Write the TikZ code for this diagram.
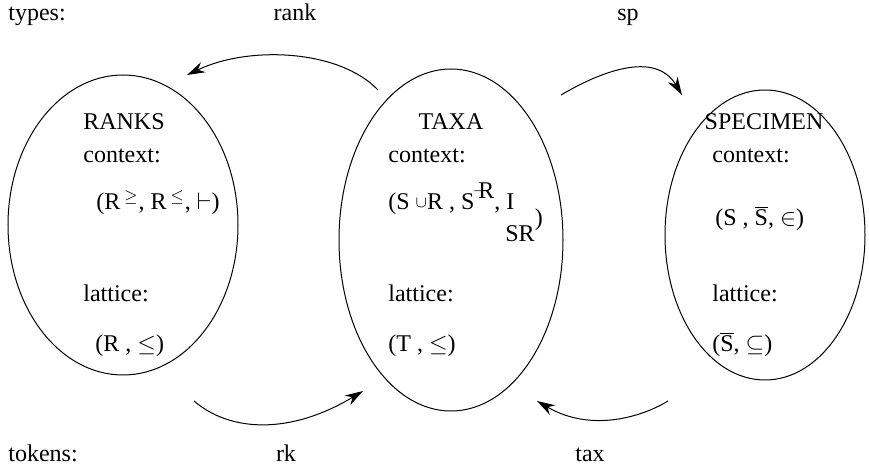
\documentclass[tikz,border=0pt]{standalone}
\usepackage{fontspec}
\setmainfont{Liberation Serif}
\usetikzlibrary{arrows.meta,shapes.geometric}
\begin{document}
\begin{tikzpicture}[x=0.5pt,y=-0.5pt,
  every node/.style={font=\fontsize{12}{14}\selectfont, inner sep=0pt},
  setbox/.style={draw, ellipse, line width=0.5pt, inner sep=0pt},
  conn/.style={line width=0.5pt, -{Stealth[length=9pt,width=5.5pt]}},
  lbl/.style={anchor=base west},
  ttl/.style={anchor=base}]
\useasboundingbox (0,0) rectangle (869,470);
% ellipses
\node[setbox, minimum width=115pt, minimum height=150pt] (ranks) at (123,225) {};
\node[setbox, minimum width=112pt, minimum height=171pt] (taxa) at (451,240) {};
\node[setbox, minimum width=100pt, minimum height=145pt] (spec) at (765,235) {};
% top/bottom labels
\node[lbl] (types) at (8,21) {types:};
\node[ttl] (rank) at (295,21) {rank};
\node[ttl] (sp) at (628,21) {sp};
\node[lbl] (tokens) at (8,462) {tokens:};
\node[ttl] (rk) at (286,462) {rk};
\node[ttl] (tax) at (590,462) {tax};
% RANKS
\node[ttl] (rT) at (124,130) {RANKS};
\node[lbl] (rC) at (83,163) {context:};
\node[lbl] (rF) at (96,210) {(R\,$^{\geq}$, R\,$^{\leq}$, $\vdash$)};
\node[lbl] (rL) at (83,302) {lattice:};
\node[lbl] (rG) at (95,352) {(R , $\leq$)};
% TAXA
\node[ttl] (tT) at (451,130) {TAXA};
\node[lbl] (tC) at (388,163) {context:};
\node[lbl] (tF) at (388,210) {(S\hspace{3pt}\raisebox{1pt}{$\scriptstyle\cup$}R , S\raisebox{5.5pt}{\rlap{\raisebox{2pt}{\scriptsize --}}\hspace{2pt}R}, I};
\node[lbl] (tS) at (505,242) {SR\raisebox{8pt}{)}};
\node[lbl] (tL) at (388,302) {lattice:};
\node[lbl] (tG) at (388,352) {(T , $\leq$)};
% SPECIMEN
\node[ttl] (sT) at (764,130) {SPECIMEN};
\node[lbl] (sC) at (712,163) {context:};
\node[lbl] (sF) at (715,226) {(S , $\overline{\mbox{S}}$, $\in$)};
\node[lbl] (sL) at (712,302) {lattice:};
\node[lbl] (sG) at (712,352) {($\overline{\mbox{S}}$, $\subseteq$)};
% connector ends
\coordinate (a1) at (378,90);  \coordinate (a2) at (187,75);
\coordinate (b1) at (561,95);  \coordinate (b2) at (682,95);
\coordinate (c1) at (194,401); \coordinate (c2) at (363,391);
\coordinate (d1) at (668,401); \coordinate (d2) at (537,401);
\draw[conn] (a1) .. controls (340,50) and (250,45) .. (a2);
\draw[conn] (b1) .. controls (600,72) and (655,50) .. (b2);
\draw[conn] (c1) .. controls (230,432) and (290,435) .. (c2);
\draw[conn] (d1) .. controls (640,418) and (590,432) .. (d2);
\end{tikzpicture}
\end{document}
